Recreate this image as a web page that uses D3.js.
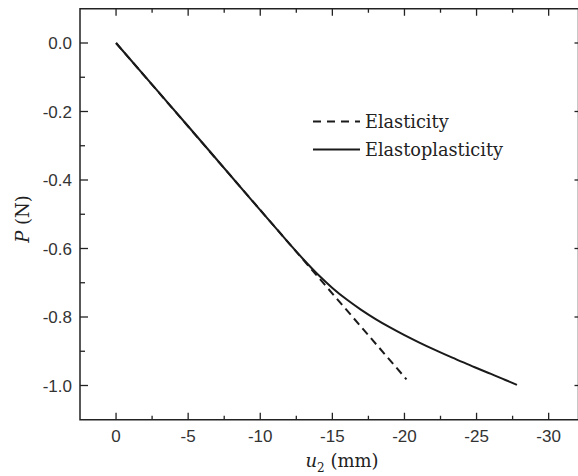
<!DOCTYPE html>
<html>
<head>
<meta charset="utf-8">
<script src="https://cdn.jsdelivr.net/npm/d3@7"></script>
<style>
  html, body { margin: 0; padding: 0; background: #fff; }
  svg { display: block; }
</style>
</head>
<body>
<svg id="chart" width="578" height="476"></svg>
<script>
// ---- data ----
const seriesNames = ["Elasticity", "Elastoplasticity"];
const elasticU = [0, -20.14];
const elasticP = [0, -0.982];
const plasticU = [0, -5, -10, -12, -13, -14, -15, -16, -17, -18, -19, -20, -21, -22, -23, -24, -25, -26, -27, -27.8];
const plasticP = [0, -0.243, -0.488, -0.585, -0.632, -0.676, -0.715, -0.749, -0.779, -0.806, -0.8305, -0.853, -0.874, -0.894, -0.913, -0.931, -0.949, -0.966, -0.984, -0.998];
const xTicks = [0, -5, -10, -15, -20, -25, -30];
const xMinorTicks = [-2.5, -7.5, -12.5, -17.5, -22.5, -27.5];
const yTicks = [0.0, -0.2, -0.4, -0.6, -0.8, -1.0];
const yMinorTicks = [-0.1, -0.3, -0.5, -0.7, -0.9];

// ---- layout ----
const svg = d3.select("#chart");
const L = 80, R = 577.5, T = 8.75, B = 419.75;
const x = d3.scaleLinear().domain([2.5, -32]).range([L, R]);
const y = d3.scaleLinear().domain([0.1, -1.1]).range([T, B]);
const ink = "#222";
const SANS = "Liberation Sans";
const SERIF = "DejaVu Serif";
const fmtX = d => String(d);
const fmtY = d => d3.format(".1f")(d).replace("\u2212", "-");

// frame
svg.append("rect").attr("x", L).attr("y", T).attr("width", R - L + 1).attr("height", B - T)
  .attr("fill", "none").attr("stroke", ink).attr("stroke-width", 1.5);

const g = svg.append("g");
xTicks.forEach(v => {
  g.append("line").attr("x1", x(v)).attr("x2", x(v)).attr("y1", B).attr("y2", B - 7).attr("stroke", ink).attr("stroke-width", 1.3);
  g.append("line").attr("x1", x(v)).attr("x2", x(v)).attr("y1", T).attr("y2", T + 7).attr("stroke", ink).attr("stroke-width", 1.3);
  g.append("text").style("font-family", SANS).attr("x", x(v)).attr("y", 442).attr("text-anchor", "middle")
    .style("font-size", "17px").attr("fill", "#333").text(fmtX(v));
});
xMinorTicks.forEach(v => {
  g.append("line").attr("x1", x(v)).attr("x2", x(v)).attr("y1", B).attr("y2", B - 4).attr("stroke", ink).attr("stroke-width", 1.3);
  g.append("line").attr("x1", x(v)).attr("x2", x(v)).attr("y1", T).attr("y2", T + 4).attr("stroke", ink).attr("stroke-width", 1.3);
});
yTicks.forEach(v => {
  g.append("line").attr("x1", L).attr("x2", L + 8).attr("y1", y(v)).attr("y2", y(v)).attr("stroke", ink).attr("stroke-width", 1.3);
  g.append("line").attr("x1", R + 1).attr("x2", R - 3).attr("y1", y(v)).attr("y2", y(v)).attr("stroke", ink).attr("stroke-width", 1.3);
  g.append("text").style("font-family", SANS).attr("x", 72).attr("y", y(v)).attr("dy", "0.36em").attr("text-anchor", "end")
    .style("font-size", "17px").attr("fill", "#333").text(fmtY(v));
});
yMinorTicks.forEach(v => {
  g.append("line").attr("x1", L).attr("x2", L + 5).attr("y1", y(v)).attr("y2", y(v)).attr("stroke", ink).attr("stroke-width", 1.3);
});

// axis titles
const xt = svg.append("text").style("font-family", SERIF).attr("x", 342).attr("y", 467).attr("text-anchor", "middle")
  .style("font-size", "18px").attr("fill", "#222");
xt.append("tspan").style("font-style", "italic").text("u");
xt.append("tspan").style("font-size", "12px").attr("dy", 5).text("2");
xt.append("tspan").attr("dy", -5).text(" (mm)");

const yt = svg.append("text").style("font-family", SERIF).attr("transform", "translate(29,219) rotate(-90)").attr("text-anchor", "middle")
  .style("font-size", "18px").attr("fill", "#222");
yt.append("tspan").style("font-style", "italic").text("P");
yt.append("tspan").text(" (N)");

// lines
const elasticData = elasticU.map((u, i) => [u, elasticP[i]]);
const plasticData = plasticU.map((u, i) => [u, plasticP[i]]);
const lineColor = "#1a1a1a";
svg.append("path").datum(elasticData).attr("d", d3.line().x(d => x(d[0])).y(d => y(d[1]))).attr("fill", "none")
  .attr("stroke", lineColor).attr("stroke-width", 2).attr("stroke-dasharray", "8,5");
svg.append("path").datum(plasticData).attr("d", d3.line().curve(d3.curveCatmullRom).x(d => x(d[0])).y(d => y(d[1])))
  .attr("fill", "none").attr("stroke", lineColor).attr("stroke-width", 2);

// legend
const legY = [121.5, 149.5];
const leg = svg.append("g");
seriesNames.forEach((name, i) => {
  leg.append("line").attr("x1", 313).attr("x2", 360).attr("y1", legY[i]).attr("y2", legY[i])
    .attr("stroke", lineColor).attr("stroke-width", 2)
    .attr("stroke-dasharray", i === 0 ? "8,6" : null);
  leg.append("text").style("font-family", SERIF).attr("x", 365).attr("y", legY[i]).attr("dy", "0.35em")
    .style("font-size", "17.7px").attr("fill", "#222").text(name);
});
</script>
</body>
</html>
